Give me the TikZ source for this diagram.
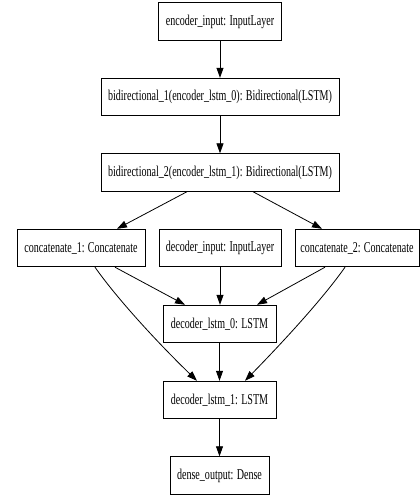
\documentclass[tikz,border=0pt]{standalone}
\usepackage{fontspec}
\setmainfont{Liberation Serif}[FakeStretch=0.67]
\usetikzlibrary{arrows.meta,calc}
\tikzset{
  layer/.style={draw=black, line width=0.9pt, rectangle, minimum height=37.5pt, inner sep=0pt,
    font=\fontsize{15}{18}\selectfont, fill=white},
  edge/.style={draw=black, line width=0.8pt, -{Triangle[length=10pt,width=7pt]}}
}
\begin{document}
\begin{tikzpicture}[x=1pt,y=-1pt]
\useasboundingbox (0,0) rectangle (420,498);
\node[layer, minimum width=123pt] (enc) at (220,21.5) {encoder\_input: InputLayer};
\node[layer, minimum width=238pt] (b1) at (220,97) {bidirectional\_1(encoder\_lstm\_0): Bidirectional(LSTM)};
\node[layer, minimum width=238pt] (b2) at (220,172.5) {bidirectional\_2(encoder\_lstm\_1): Bidirectional(LSTM)};
\node[layer, minimum width=128pt] (c1) at (81,248) {concatenate\_1: Concatenate};
\node[layer, minimum width=122pt] (di) at (220,248) {decoder\_input: InputLayer};
\node[layer, minimum width=124pt] (c2) at (357,248) {concatenate\_2: Concatenate};
\node[layer, minimum width=113pt] (d0) at (219.5,324) {decoder\_lstm\_0: LSTM};
\node[layer, minimum width=113pt] (d1) at (219.5,400) {decoder\_lstm\_1: LSTM};
\node[layer, minimum width=99pt] (dn) at (219.5,475.5) {dense\_output: Dense};

\draw[edge] (enc.south) -- (b1.north);
\draw[edge] (b1.south) -- (b2.north);
\draw[edge] ($(b2.south)+(-33,0)$) -- ($(c1.north)+(36,0)$);
\draw[edge] ($(b2.south)+(33,0)$) -- ($(c2.north)+(-35,0)$);
\draw[edge] ($(c1.south)+(34,0)$) -- ($(d0.north)+(-34.5,0)$);
\draw[edge] (di.south) -- (di.south |- d0.north);
\draw[edge] ($(c2.south)+(-32,0)$) -- ($(d0.north)+(37.5,0)$);
\draw[edge] ($(c1.south)+(14,0)$) .. controls (118,300) and (160,345) .. ($(d1.north)+(-22.5,0)$);
\draw[edge] ($(c2.south)+(-12,0)$) .. controls (322,300) and (280,345) .. ($(d1.north)+(25.5,0)$);
\draw[edge] (d0.south) -- (d1.north);
\draw[edge] (d1.south) -- (dn.north);
\end{tikzpicture}
\end{document}
